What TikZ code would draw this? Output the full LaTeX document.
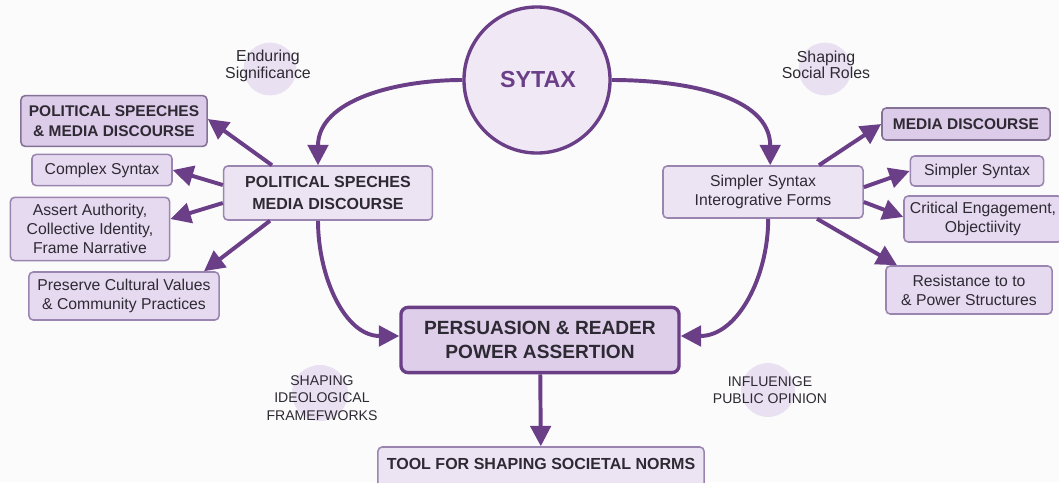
\documentclass[tikz,border=0pt]{standalone}
\usepackage{fontspec}
\setmainfont{Liberation Sans}
\usetikzlibrary{arrows.meta}
\definecolor{synpurple}{HTML}{6B3F88}
\definecolor{synedge}{HTML}{9A85B0}
\definecolor{synfill}{HTML}{E6DAF0}
\definecolor{synhead}{HTML}{DCCBE9}
\definecolor{synmid}{HTML}{ECE4F3}
\definecolor{synbubble}{HTML}{E9E0F1}
\definecolor{syntext}{HTML}{2E2A33}
\begin{document}
\begin{tikzpicture}[x=0.025cm,y=-0.025cm,
    leaf/.style={draw=synedge,line width=1.1pt,fill=synfill,rounded corners=3pt,
      align=center,text=syntext,inner sep=0pt,font=\fontsize{11.2}{13.4}\selectfont},
    headleaf/.style={leaf,fill=synhead,draw=synedge!85!black,font=\bfseries\fontsize{11}{14}\selectfont},
    midbox/.style={leaf,fill=synmid},
    bubble/.style={circle,fill=synbubble,inner sep=0pt},
    note/.style={align=center,text=syntext,font=\fontsize{11.3}{11.8}\selectfont},
    flow/.style={draw=synpurple,line width=2.8pt,-{Triangle[length=14.5pt,width=14.5pt]}}]
  \useasboundingbox (0,0) rectangle (1059,482);
  \fill[white!98.5!black] (0,0) rectangle (1059,482);

  \node[circle,draw=synpurple,line width=2.4pt,fill=synmid!80!white,minimum size=3.65cm]
    (sytax) at (537,80) {};
  \node[text=synpurple,font=\bfseries\fontsize{16.5}{18}\selectfont] (sytaxlabel) at (538,80) {SYTAX};

  \node[bubble,minimum size=1.32cm] (b1) at (270,69) {};
  \node[note] (endur) at (268,66) {Enduring\\Significance};
  \node[bubble,minimum size=1.32cm] (b2) at (825,69) {};
  \node[note] (roles) at (826,65) {Shaping\\Social Roles};
  \node[bubble,minimum size=1.4cm] (b3) at (320,393) {};
  \node[note,font=\fontsize{10}{12.5}\selectfont] (ideo) at (322,398) {SHAPING\\IDEOLOGICAL\\FRAMEFWORKS};
  \node[bubble,minimum size=1.35cm] (b4) at (768,390) {};
  \node[note,font=\fontsize{10}{12.2}\selectfont] (opin) at (770,390) {INFLUENIGE\\PUBLIC OPINION};

  \node[midbox,font=\bfseries\fontsize{11.4}{15}\selectfont,minimum width=5.22cm,minimum height=1.35cm]
    (polit) at (328,193) {POLITICAL SPECHES\\MEDIA DISCOURSE};
  \node[midbox,minimum width=5cm,minimum height=1.3cm]
    (simpl) at (763,192) {Simpler Syntax\\Interogrative Forms};

  \node[headleaf,minimum width=4.65cm,minimum height=1.27cm] (speech) at (114,121) {POLITICAL SPEECHES\\\& MEDIA DISCOURSE};
  \node[leaf,minimum width=3.5cm,minimum height=0.78cm] (complex) at (102,170) {Complex Syntax};
  \node[leaf,minimum width=3.98cm,minimum height=1.58cm] (assert) at (90,229) {Assert Authority,\\Collective Identity,\\Frame Narrative};
  \node[leaf,minimum width=4.75cm,minimum height=1.2cm] (preserve) at (124,296) {Preserve Cultural Values\\\& Community Practices};

  \node[headleaf,minimum width=4.2cm,minimum height=0.8cm] (media) at (966,124) {MEDIA DISCOURSE};
  \node[leaf,minimum width=3.33cm,minimum height=0.75cm] (simpler) at (977,171) {Simpler Syntax};
  \node[leaf,minimum width=3.95cm,minimum height=1.15cm] (critical) at (983,219) {Critical Engagement,\\Objectiivity};
  \node[leaf,minimum width=4.15cm,minimum height=1.2cm] (resist) at (969,290) {Resistance to to\\\& Power Structures};

  \node[leaf,draw=synpurple,line width=2.4pt,fill=synhead!80!synfill,rounded corners=5pt,
    font=\bfseries\fontsize{13.6}{16.8}\selectfont,minimum width=6.95cm,minimum height=1.63cm]
    (persu) at (540,340) {PERSUASION \& READER\\POWER ASSERTION};
  \node[leaf,fill=synmid,font=\bfseries\fontsize{11.4}{14}\selectfont,text depth=0.33cm,
    minimum width=8.15cm,minimum height=1.15cm]
    (tool) at (541,470) {TOOL FOR SHAPING SOCIETAL NORMS};

  \begin{scope}[flow]
    \draw (sytax.west) to[out=180,in=90] ([xshift=-0.25cm]polit.north);
    \draw (sytax.east) to[out=0,in=90] ([xshift=0.18cm]simpl.north);
    \draw ([xshift=-0.25cm]polit.south) to[out=-90,in=180] ([yshift=0.1cm]persu.west);
    \draw ([xshift=0.13cm]simpl.south) to[out=-90,in=0] ([yshift=0.1cm]persu.east);
    \draw (persu) to (tool);
    \draw ([xshift=-1.4cm]polit.north) to ([yshift=0.05cm]speech.east);
    \draw ([yshift=0.2cm]polit.west) to (complex.east);
    \draw ([yshift=-0.25cm]polit.west) to ([yshift=0.25cm]assert.east);
    \draw ([xshift=-1.45cm]polit.south) to ([xshift=2cm]preserve.north);
    \draw ([xshift=1.4cm]simpl.north) to (media.west);
    \draw ([yshift=0.12cm]simpl.east) to (simpler.west);
    \draw ([yshift=-0.25cm]simpl.east) to ([yshift=0.05cm]critical.west);
    \draw ([xshift=1.35cm]simpl.south) to ([xshift=-1.8cm]resist.north);
  \end{scope}
\end{tikzpicture}
\end{document}
